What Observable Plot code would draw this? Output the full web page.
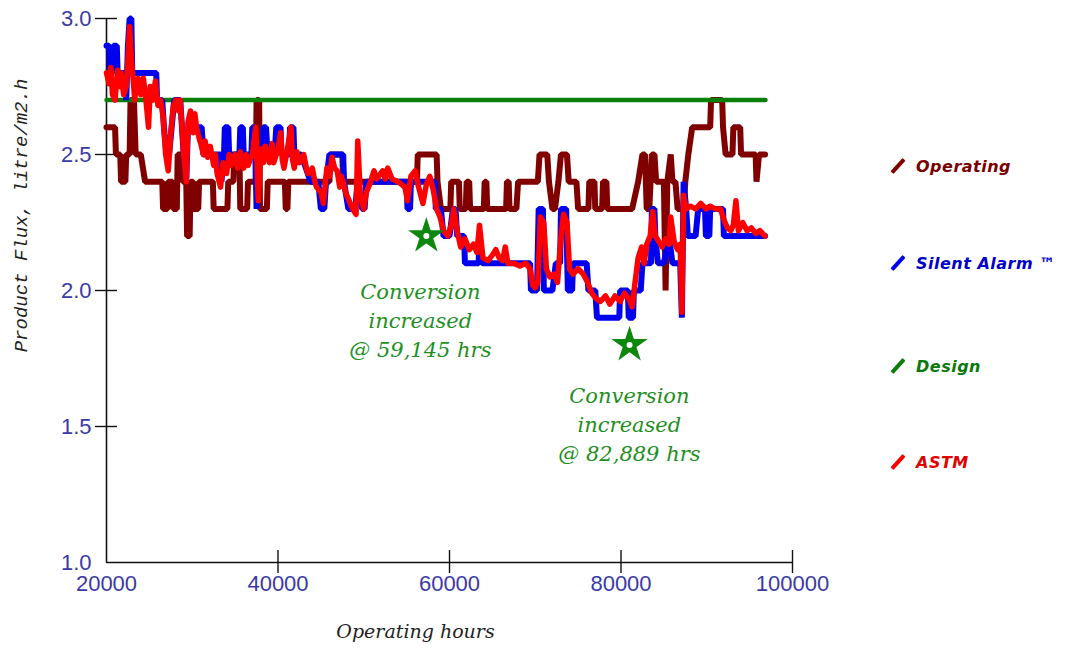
<!DOCTYPE html>
<html>
<head>
<meta charset="utf-8">
<script src="https://cdn.jsdelivr.net/npm/d3@7"></script>
<script src="https://cdn.jsdelivr.net/npm/@observablehq/plot@0.6"></script>
<style>
  html, body { margin: 0; padding: 0; background: #fff; }
  #wrap { position: relative; width: 1069px; height: 655px; overflow: hidden; }
  #legend { position: absolute; left: 0; top: 0; width: 1069px; height: 655px; pointer-events: none; }
  .item { position: absolute; left: 889px; height: 22px; display: flex; align-items: center;
          font-family: "DejaVu Sans", Verdana, sans-serif; font-weight: bold; font-style: italic;
          font-size: 16px; letter-spacing: 0.5px; white-space: nowrap; }
  .sw { display: inline-block; width: 4px; height: 18px; margin: 0 16px 0 7px; transform: rotate(42deg); border-radius: 1px; }
</style>
</head>
<body>
<div id="wrap"><div id="legend"></div></div>
<script>
// ---- data (hours, product flux litre/m2.h) ----
const xTicks = [20000, 40000, 60000, 80000, 100000];
const yTicks = [1.0, 1.5, 2.0, 2.5, 3.0];

const seriesNames = ["Operating", "Silent Alarm \u2122", "Design", "ASTM"];
const seriesColors = ["#800000", "#0000ee", "#0a800a", "#ff0000"];
const legendTextColors = ["#7a0000", "#0000c8", "#0a7a0a", "#e00000"];

const design = [[20000, 2.7], [96850, 2.7]];

const operating = [
  [20000,2.6],[21000,2.6],[21100,2.5],[21600,2.5],[21700,2.4],[22200,2.4],[22300,2.5],[22700,2.5],
  [22800,2.7],[23200,2.7],[23400,2.5],[24000,2.5],[24500,2.4],[26500,2.4],[26600,2.3],[27100,2.3],
  [27200,2.4],[27700,2.4],[27800,2.3],[28200,2.3],[28300,2.5],[28800,2.5],[28900,2.4],[29300,2.4],
  [29400,2.2],[29700,2.2],[29800,2.4],[30100,2.4],[30200,2.3],[30700,2.3],[30800,2.4],[32400,2.4],
  [32500,2.3],[34100,2.3],[34200,2.4],[34800,2.4],[34900,2.5],[35500,2.5],[35600,2.3],[36400,2.3],
  [36500,2.4],[37400,2.4],[37500,2.7],[37800,2.7],[37900,2.3],[38700,2.3],[38800,2.4],[40800,2.4],
  [40900,2.3],[41100,2.3],[41200,2.4],[46000,2.4],[46100,2.5],[47500,2.5],[47600,2.4],[56200,2.4],
  [56300,2.5],[58500,2.5],[58600,2.4],[59000,2.3],[60100,2.3],[60200,2.4],[61100,2.4],[61200,2.3],
  [61900,2.3],[62000,2.4],[62300,2.4],[62400,2.3],[64000,2.3],[64100,2.4],[64300,2.4],[64400,2.3],
  [66600,2.3],[66700,2.4],[66900,2.4],[67000,2.3],[67800,2.3],[68000,2.4],[70300,2.4],[70500,2.5],
  [71400,2.5],[71600,2.4],[72000,2.3],[72300,2.3],[72700,2.4],[73000,2.5],[73700,2.5],[73900,2.4],
  [74800,2.4],[75000,2.3],[76200,2.3],[76300,2.4],[76900,2.4],[77000,2.3],[77800,2.3],[77900,2.4],
  [78300,2.4],[78400,2.3],[81300,2.3],[82000,2.4],[82500,2.5],[82800,2.5],[83000,2.3],[83300,2.3],
  [83600,2.5],[83900,2.5],[84100,2.4],[85000,2.4],[85200,2.0],[85400,2.4],[85800,2.5],[86000,2.4],
  [86350,2.4],[86600,2.3],[87300,2.3],[87500,2.4],[87850,2.5],[88300,2.6],[90400,2.6],[90500,2.7],
  [91800,2.7],[91900,2.6],[92200,2.5],[93000,2.5],[93100,2.6],[93900,2.6],[94000,2.5],[95700,2.5],
  [95800,2.4],[96100,2.5],[96800,2.5]
];

const silentAlarm = [
  [20000,2.9],[20300,2.9],[20400,2.8],[20700,2.8],[20800,2.9],[21200,2.9],[21300,2.8],[22200,2.8],
  [22300,2.7],[22500,2.9],[22700,3.0],[22900,3.0],[23000,2.8],[24000,2.8],[25800,2.8],[25900,2.7],
  [26500,2.7],[26700,2.6],[27000,2.5],[27300,2.5],[27600,2.6],[27900,2.7],[28600,2.7],[29000,2.5],
  [29300,2.4],[29500,2.6],[30500,2.6],[31100,2.6],[31300,2.5],[33300,2.5],[33400,2.4],
  [33700,2.5],[33800,2.6],[34200,2.6],[34300,2.5],[35500,2.5],[35600,2.6],[35900,2.6],[36000,2.5],
  [36900,2.5],[37000,2.6],[37300,2.6],[37500,2.3],[37800,2.5],[38200,2.5],[38300,2.6],[38600,2.6],
  [38800,2.5],[39600,2.5],[39800,2.6],[40300,2.6],[40400,2.5],[41300,2.5],[41400,2.6],[41800,2.6],
  [41900,2.5],[42700,2.5],[43800,2.4],[44700,2.4],[45000,2.3],[45400,2.3],[45600,2.4],[46000,2.5],
  [47600,2.5],[47700,2.4],[48200,2.3],[49000,2.3],[49300,2.4],[49800,2.3],[50100,2.3],[50300,2.4],
  [55000,2.4],[55100,2.3],[55400,2.3],[55500,2.4],[58300,2.4],[58400,2.3],[59000,2.3],[59300,2.2],
  [60000,2.2],[60400,2.3],[60700,2.3],[60900,2.2],[61700,2.2],[61800,2.1],[63400,2.1],[63500,2.2],
  [63800,2.1],[69400,2.1],[69500,2.0],[70200,2.0],[70400,2.3],[70900,2.3],[71000,2.0],[72000,2.0],
  [72400,2.1],[72900,2.1],[73000,2.3],[73600,2.3],[73800,2.0],[74300,2.0],[74400,2.1],[76000,2.1],
  [76200,2.0],[77000,2.0],[77200,1.9],[79800,1.9],[79900,2.0],[80800,2.0],[80900,1.9],[81400,1.9],
  [81500,2.0],[82300,2.0],[82500,2.1],[83500,2.1],[83600,2.3],[83900,2.3],[84000,2.2],[84300,2.1],
  [85000,2.1],[85600,2.2],[86000,2.1],[86900,2.1],[87100,1.9],[87300,2.4],[87600,2.3],[87800,2.2],
  [88700,2.2],[89000,2.3],[89800,2.3],[89900,2.2],[90300,2.2],[90400,2.3],[91900,2.3],[92000,2.2],
  [96800,2.2]
];

const astm = [
  [20000,2.8],[20300,2.76],[20500,2.82],[20700,2.72],[21000,2.7],[21300,2.81],[21500,2.75],[21700,2.8],
  [22000,2.72],[22300,2.75],[22500,2.85],[22700,2.97],[22900,2.85],[23100,2.78],[23300,2.7],[23400,2.74],
  [23700,2.78],[24000,2.72],[24300,2.78],[24600,2.7],[24900,2.6],[25100,2.75],[25400,2.7],[25700,2.77],
  [26000,2.68],[26300,2.7],[26600,2.64],[26900,2.5],[27200,2.44],[27500,2.58],[27800,2.68],[28100,2.7],
  [28400,2.66],[28600,2.7],[28800,2.6],[29000,2.5],[29300,2.4],[29500,2.62],[29800,2.66],[30100,2.58],
  [30300,2.65],[30500,2.6],[30800,2.56],[31000,2.54],[31300,2.5],[31500,2.55],[31800,2.49],[32100,2.53],
  [32500,2.46],[32700,2.5],[32900,2.43],[33300,2.38],[33600,2.47],[34000,2.43],[34300,2.5],[34500,2.46],
  [35000,2.5],[35300,2.45],[35600,2.51],[36000,2.45],[36300,2.5],[36500,2.46],[37000,2.5],[37400,2.6],
  [37700,2.33],[38000,2.52],[38300,2.47],[38500,2.53],[39000,2.47],[39300,2.54],[39500,2.47],[40000,2.52],
  [40300,2.58],[40500,2.48],[40700,2.45],[41100,2.52],[41500,2.6],[41700,2.48],[41900,2.45],[42200,2.51],
  [42500,2.47],[43000,2.5],[43300,2.45],[43500,2.43],[44000,2.45],[44300,2.4],[44500,2.38],[45000,2.36],
  [45300,2.32],[45700,2.45],[46000,2.42],[46300,2.49],[46600,2.45],[46900,2.44],[47200,2.38],[47400,2.42],
  [47900,2.36],[48300,2.33],[48700,2.3],[49100,2.28],[49300,2.55],[49600,2.35],[50000,2.3],[50300,2.36],
  [50800,2.4],[51200,2.44],[51500,2.41],[52200,2.44],[52500,2.41],[52800,2.45],[53300,2.41],[54000,2.4],
  [54800,2.38],[55100,2.33],[55500,2.42],[56000,2.44],[56400,2.38],[56900,2.32],[57300,2.39],[57700,2.42],
  [58100,2.37],[58500,2.3],[58900,2.27],[59300,2.22],[59800,2.2],[60200,2.24],[60500,2.3],[60900,2.22],
  [61300,2.16],[61800,2.19],[62300,2.15],[62800,2.17],[63200,2.14],[63500,2.24],[63900,2.12],[64500,2.11],
  [65000,2.13],[65400,2.15],[65800,2.12],[66200,2.11],[66500,2.16],[66800,2.1],[67500,2.1],[68200,2.09],
  [68900,2.1],[69400,2.08],[69700,2.02],[70000,2.01],[70300,2.03],[70600,2.27],[71000,2.25],[71300,2.08],
  [71700,2.05],[72200,2.06],[72600,2.03],[73000,2.2],[73300,2.28],[73700,2.25],[74000,2.08],[74400,2.06],
  [75000,2.08],[75600,2.06],[76100,2.03],[76600,1.99],[77100,1.97],[77600,1.96],[78200,1.98],[78700,1.95],
  [79300,1.98],[79900,1.96],[80400,1.99],[80900,1.97],[81300,1.94],[81600,2.02],[82000,2.12],[82400,2.16],
  [82700,2.1],[83000,2.17],[83400,2.2],[83700,2.29],[84000,2.2],[84400,2.18],[84800,2.16],[85200,2.19],
  [85600,2.17],[85800,2.27],[86200,2.18],[86600,2.15],[86900,2.17],[87100,1.92],[87300,2.35],[87600,2.3],
  [88100,2.31],[88700,2.3],[89300,2.32],[89900,2.3],[90400,2.31],[91000,2.3],[91600,2.3],[92000,2.26],
  [92400,2.23],[92800,2.22],[93100,2.24],[93400,2.33],[93700,2.22],[94200,2.25],[94700,2.22],[95200,2.23],
  [95700,2.21],[96200,2.22],[96800,2.2]
];

const starHours = [57300, 81000];
const starFlux = [2.2, 1.8];
const noteHours = [56600, 80980];
const noteFlux = [1.897, 1.515];
const noteTexts = ["Conversion\nincreased\n@ 59,145 hrs", "Conversion\nincreased\n@ 82,889 hrs"];

// ---- chart ----
const stars = starHours.map((h, i) => ({h, v: starFlux[i]}));
const notes = noteHours.map((h, i) => ({h, v: noteFlux[i], t: noteTexts[i]}));
const tickColor = "#3a3aa6";
const tickFont = "'Liberation Sans', Arial, sans-serif";

const chart = Plot.plot({
  width: 1069,
  height: 655,
  marginLeft: 106,
  marginRight: 277,
  marginTop: 18,
  marginBottom: 93,
  style: {background: "white", overflow: "visible"},
  x: {domain: [20000, 100000], axis: null},
  y: {domain: [1, 3], axis: null},
  marks: [
    Plot.ruleX([20000], {stroke: "#111", strokeWidth: 1.6}),
    Plot.ruleY([1], {stroke: "#111", strokeWidth: 1.6}),
    Plot.tickY(yTicks.filter(d => d > 1), {y: d => d, insetLeft: -11, insetRight: 686 - 11, stroke: "#111", strokeWidth: 1.4}),
    Plot.tickX(xTicks.filter(d => d > 20000), {x: d => d, insetTop: 544 - 12, insetBottom: -11, stroke: "#111", strokeWidth: 1.4}),
    Plot.text(yTicks, {y: d => d, frameAnchor: "left", text: d => d.toFixed(1), textAnchor: "end", dx: -15,
      fill: tickColor, fontSize: 22, fontFamily: tickFont}),
    Plot.text(xTicks, {x: d => d, frameAnchor: "bottom", text: d => String(d), dy: 28,
      fill: tickColor, fontSize: 22, fontFamily: tickFont}),
    Plot.text(["Operating hours"], {frameAnchor: "bottom", dx: -34, dy: 75, text: d => d,
      fontSize: 19, fontStyle: "italic", fontFamily: "'DejaVu Serif', serif", fill: "#222"}),
    Plot.text(["Product Flux, litre/m2.h"], {frameAnchor: "left", textAnchor: "middle", dx: -86, dy: -75, rotate: -90, text: d => d,
      fontSize: 19, fontStyle: "italic", fontFamily: "'Liberation Mono', monospace", fill: "#222"}),
    Plot.line(operating, {x: d => d[0], y: d => d[1], stroke: seriesColors[0], strokeWidth: 6, strokeLinejoin: "miter"}),
    Plot.line(design, {x: d => d[0], y: d => d[1], stroke: seriesColors[2], strokeWidth: 4.5, strokeLinecap: "round"}),
    Plot.line(silentAlarm, {x: d => d[0], y: d => d[1], stroke: seriesColors[1], strokeWidth: 6, strokeLinejoin: "miter"}),
    Plot.line(astm, {x: d => d[0], y: d => d[1], stroke: seriesColors[3], strokeWidth: 5.5}),
    Plot.dot(stars, {x: "h", y: "v", symbol: "star", r: 9.5, fill: "#0d870d", stroke: "#0d870d", strokeWidth: 2}),
    Plot.dot(stars, {x: "h", y: "v", r: 3, fill: "white"}),
    Plot.text(notes, {x: "h", y: "v", text: "t", lineHeight: 1.38, fontSize: 21, fontStyle: "italic",
      fontFamily: "'DejaVu Serif', serif", fill: "#1f8f1f"})
  ]
});
document.getElementById("wrap").prepend(chart);

// ---- legend ----
const legendTops = [155, 252, 355, 451];
const legend = document.getElementById("legend");
seriesNames.forEach((name, i) => {
  const item = document.createElement("div");
  item.className = "item";
  item.style.top = legendTops[i] + "px";
  const sw = document.createElement("span");
  sw.className = "sw";
  sw.style.background = seriesColors[i];
  const label = document.createElement("span");
  label.textContent = name;
  label.style.color = legendTextColors[i];
  item.append(sw, label);
  legend.append(item);
});
</script>
</body>
</html>
